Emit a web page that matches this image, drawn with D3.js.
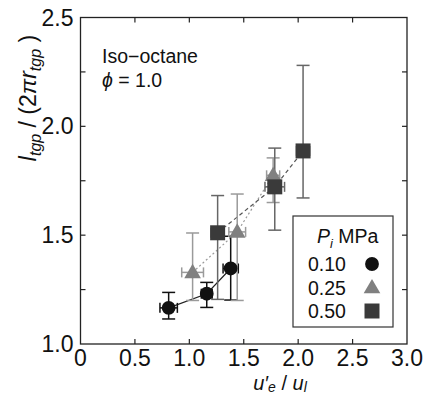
<!DOCTYPE html>
<html>
<head>
<meta charset="utf-8">
<script src="https://cdn.jsdelivr.net/npm/d3@7"></script>
<style>
  body { margin: 0; background: #fff; }
  svg text { font-family: "Liberation Sans", Arial, sans-serif; fill: #111; }
</style>
</head>
<body>
<div id="chart"></div>
<script>
// pressures in the legend
const pressures = ["0.10", "0.25", "0.50"];
// u'e / ul
const xVals = [[0.81, 1.16, 1.38], [1.03, 1.44, 1.77], [1.26, 1.785, 2.045]];
// l_tgp / (2 pi r_tgp)
const yVals = [[1.166, 1.231, 1.347], [1.329, 1.515, 1.775], [1.511, 1.722, 1.887]];
const yLow = [[1.115, 1.168, 1.202], [1.20, 1.20, 1.65], [1.205, 1.523, 1.671]];
const yHigh = [[1.237, 1.283, 1.495], [1.51, 1.689, 1.855], [1.682, 1.90, 2.28]];
const xErr = [[0.08, 0.05, 0.07], [0.10, 0.077, 0.06], [0.06, 0.09, 0.06]];
const xTicks = [0, 0.5, 1.0, 1.5, 2.0, 2.5, 3.0];
const yTicks = [1.0, 1.5, 2.0, 2.5];
const yMinor = [1.25, 1.75, 2.25];

(function() {
  const width = 426;
  const height = 396;
  const svg = d3.select("#chart")
    .append("svg")
    .attr("width", width)
    .attr("height", height);

  const x = d3.scaleLinear().domain([0, 3]).range([80.5, 407]);
  const y = d3.scaleLinear().domain([1, 2.5]).range([344, 17.5]);

  const markColor = ["#111", "#808080", "#3a3a3a"];
  const barColor = ["#111", "#9a9a9a", "#666"];
  const lineDash = [null, "2,2.5", "4,3"];
  const lineColor = ["#222", "#999", "#555"];

  // frame
  svg.append("rect")
    .attr("x", x(0)).attr("y", y(2.5))
    .attr("width", x(3) - x(0)).attr("height", y(1) - y(2.5))
    .style("fill", "none").style("stroke", "#222").style("stroke-width", 1.3);

  // ticks (inward, all four sides)
  const tl = 5;
  const g = svg.append("g").style("stroke", "#222").style("stroke-width", 1.2);
  xTicks.slice(1, -1).forEach(t => {
    g.append("line").attr("x1", x(t)).attr("x2", x(t)).attr("y1", y(1)).attr("y2", y(1) - tl);
    g.append("line").attr("x1", x(t)).attr("x2", x(t)).attr("y1", y(2.5)).attr("y2", y(2.5) + tl);
  });
  yTicks.slice(1, -1).concat(yMinor).forEach(t => {
    g.append("line").attr("x1", x(0)).attr("x2", x(0) + tl).attr("y1", y(t)).attr("y2", y(t));
    g.append("line").attr("x1", x(3)).attr("x2", x(3) - tl).attr("y1", y(t)).attr("y2", y(t));
  });

  // tick labels
  svg.selectAll(".xl").data(xTicks).enter().append("text")
    .attr("x", d => x(d)).attr("y", 366)
    .attr("text-anchor", "middle").style("font-size", "23px")
    .text(d => d === 0 ? "0" : d.toFixed(1));
  svg.selectAll(".yl").data(yTicks).enter().append("text")
    .attr("x", 73.5).attr("y", d => y(d) + 8)
    .attr("text-anchor", "end").style("font-size", "23px")
    .text(d => d.toFixed(1));

  // connecting lines
  const line = d3.line().x(d => x(d[0])).y(d => y(d[1]));
  pressures.forEach((p, i) => {
    svg.append("path")
      .datum(xVals[i].map((v, j) => [v, yVals[i][j]]))
      .attr("d", line)
      .style("fill", "none")
      .style("stroke", lineColor[i])
      .style("stroke-width", 1.2)
      .style("stroke-dasharray", lineDash[i]);
  });

  // error bars
  const cap = 6.5;
  pressures.forEach((p, i) => {
    const eb = svg.append("g").style("stroke", barColor[i]).style("stroke-width", 1.5);
    xVals[i].forEach((v, j) => {
      const cx = x(v);
      eb.append("line").attr("x1", cx).attr("x2", cx).attr("y1", y(yLow[i][j])).attr("y2", y(yHigh[i][j]));
      eb.append("line").attr("x1", cx - cap).attr("x2", cx + cap).attr("y1", y(yLow[i][j])).attr("y2", y(yLow[i][j]));
      eb.append("line").attr("x1", cx - cap).attr("x2", cx + cap).attr("y1", y(yHigh[i][j])).attr("y2", y(yHigh[i][j]));
      const cy = y(yVals[i][j]);
      const xl = x(v - xErr[i][j]), xr = x(v + xErr[i][j]);
      eb.append("line").attr("x1", xl).attr("x2", xr).attr("y1", cy).attr("y2", cy);
      eb.append("line").attr("x1", xl).attr("x2", xl).attr("y1", cy - 5).attr("y2", cy + 5);
      eb.append("line").attr("x1", xr).attr("x2", xr).attr("y1", cy - 5).attr("y2", cy + 5);
    });
  });

  // markers
  const symbols = [d3.symbolCircle, d3.symbolTriangle, d3.symbolSquare];
  const sizes = [150, 120, 225];
  pressures.forEach((p, i) => {
    svg.selectAll(".m" + i)
      .data(xVals[i].map((v, j) => [v, yVals[i][j]]))
      .enter().append("path")
      .attr("d", d3.symbol().type(symbols[i]).size(sizes[i]))
      .attr("transform", d => `translate(${x(d[0])},${y(d[1]) + (i === 1 ? 1 : 0)})`)
      .style("fill", markColor[i]);
  });

  // annotation
  svg.append("text").attr("x", 102).attr("y", 63).style("font-size", "19.5px").text("Iso\u2212octane");
  const phi = svg.append("text").attr("x", 102).attr("y", 87).style("font-size", "19.5px");
  phi.append("tspan").style("font-style", "italic").text("\u03d5");
  phi.append("tspan").text(" = 1.0");

  // legend
  svg.append("rect")
    .attr("x", 293).attr("y", 216).attr("width", 100).attr("height", 111)
    .style("fill", "#fff").style("stroke", "#333").style("stroke-width", 1.2);
  const lt = svg.append("text").attr("x", 317).attr("y", 243).style("font-size", "19.5px");
  lt.append("tspan").style("font-style", "italic").text("P");
  lt.append("tspan").style("font-style", "italic").style("font-size", "13px").attr("dy", 5).text("i");
  lt.append("tspan").attr("dy", -5).text(" MPa");
  pressures.forEach((p, i) => {
    const ly = 264 + i * 23.5;
    svg.append("text").attr("x", 308).attr("y", ly + 7).style("font-size", "19.5px").text(p);
    svg.append("path")
      .attr("d", d3.symbol().type(symbols[i]).size(sizes[i]))
      .attr("transform", `translate(372,${ly + (i === 1 ? 1 : 0)})`)
      .style("fill", markColor[i]);
  });

  // axis titles
  const xt = svg.append("text").attr("x", 280).attr("y", 390)
    .attr("text-anchor", "middle").style("font-size", "20px");
  xt.append("tspan").style("font-style", "italic").text("u\u2032");
  xt.append("tspan").style("font-style", "italic").style("font-size", "14px").attr("dy", 2).text("e");
  xt.append("tspan").attr("dy", -2).text(" / ");
  xt.append("tspan").style("font-style", "italic").text("u");
  xt.append("tspan").style("font-style", "italic").style("font-size", "14px").attr("dy", 2).text("l");

  const yt = svg.append("text")
    .attr("transform", "translate(36,98) rotate(-90)")
    .attr("text-anchor", "middle").style("font-size", "23px");
  yt.append("tspan").style("font-style", "italic").text("l");
  yt.append("tspan").style("font-style", "italic").style("font-size", "16px").attr("dy", 5).text("tgp");
  yt.append("tspan").attr("dy", -5).text(" / (2");
  yt.append("tspan").style("font-style", "italic").text("\u03c0r");
  yt.append("tspan").style("font-style", "italic").style("font-size", "16px").attr("dy", 5).text("tgp");
  yt.append("tspan").attr("dy", -5).text(" )");
})();
</script>
</body>
</html>
